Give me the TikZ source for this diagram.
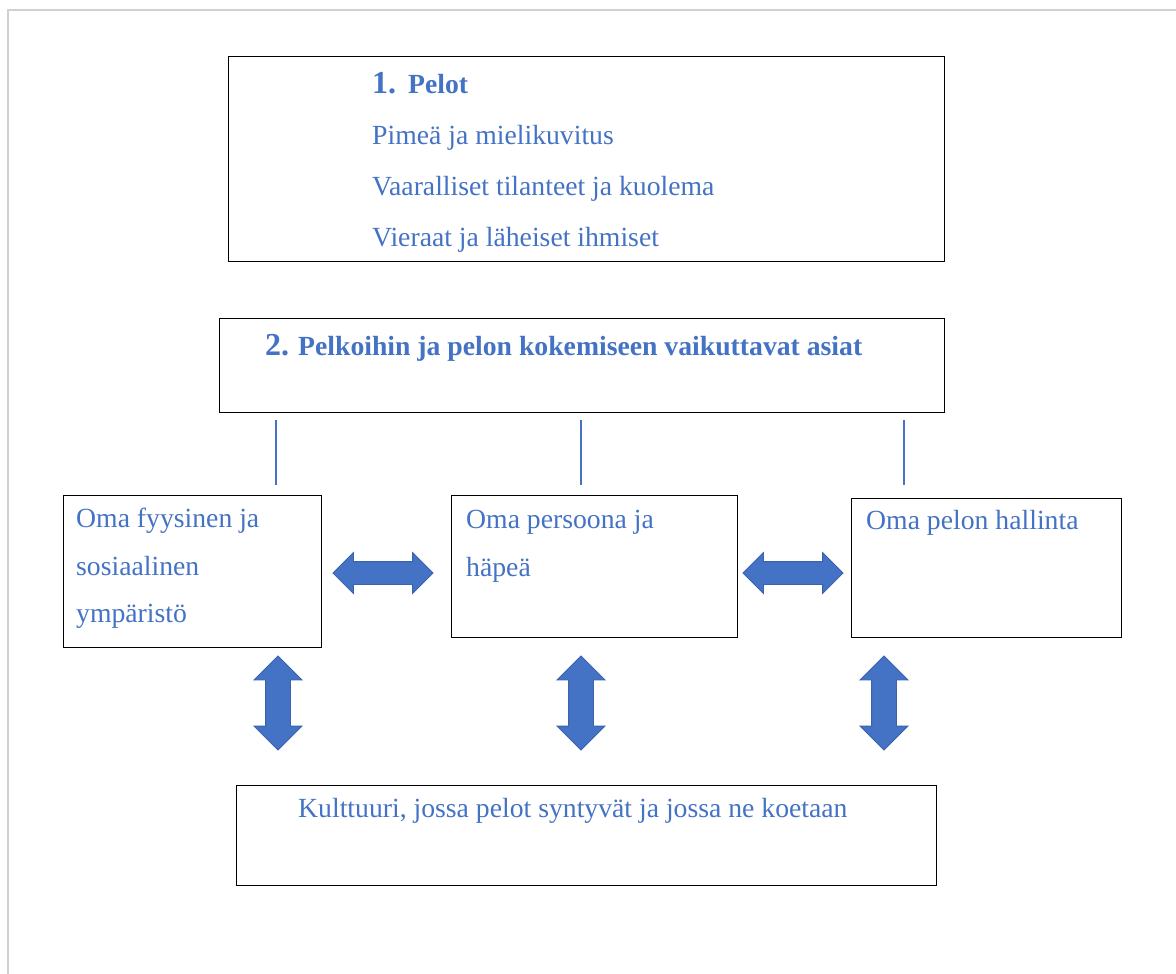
\documentclass[tikz,border=0pt]{standalone}
\usepackage{fontspec}
\setmainfont{Liberation Serif}
\usetikzlibrary{shapes.arrows,calc}
\usepackage{xcolor}
\definecolor{fearblue}{HTML}{4472C4}
\definecolor{edgeblue}{HTML}{3A62AE}
\definecolor{pagegray}{HTML}{D0D0D0}

\begin{document}
\begin{tikzpicture}[x=1pt,y=-1pt,
  box/.style={draw=black, line width=1.3pt, anchor=north west, inner sep=0pt},
  txt/.style={text=fearblue, anchor=base west, inner sep=0pt, font=\fontsize{27.7}{33}\selectfont},
  hdr/.style={txt, font=\fontsize{27.7}{33}\selectfont\bfseries},
  link/.style={draw=fearblue, line width=2.4pt},
  harrow/.style={double arrow, fill=fearblue, draw=edgeblue, line width=0.8pt,
    minimum height=100pt, inner xsep=0pt, inner ysep=11pt, double arrow head extend=9pt},
  varrow/.style={double arrow, rotate=90, fill=fearblue, draw=edgeblue, line width=0.8pt,
    minimum height=94pt, inner xsep=0pt, inner ysep=12pt, double arrow head extend=11.5pt}]
\useasboundingbox (0,0) rectangle (1176,974);
\draw[pagegray, line width=2pt] (8,974) -- (8,10) -- (1176,10);

\node[box, minimum width=716pt, minimum height=205pt] (pelot) at (228,56) {};
\node[hdr] (pelothead) at (372,93) {{\fontsize{32}{32}\selectfont 1.}\hspace{12pt}Pelot};
\node[txt] (pimea) at (372,144) {Pimeä ja mielikuvitus};
\node[txt] (vaara) at (372,195) {Vaaralliset tilanteet ja kuolema};
\node[txt] (ihmiset) at (372,246) {Vieraat ja läheiset ihmiset};

\node[box, minimum width=725pt, minimum height=94pt] (tekijat) at (219,318) {};
\node[hdr] (tekijathead) at (265,355) {{\fontsize{32}{32}\selectfont 2.}\hspace{9pt}Pelkoihin ja pelon kokemiseen vaikuttavat asiat};

\node[box, minimum width=258pt, minimum height=152pt] (ymparisto) at (63,495) {};
\node[txt] (ymp1) at (76,527) {Oma fyysinen ja};
\node[txt] (ymp2) at (76,575) {sosiaalinen};
\node[txt] (ymp3) at (76,622) {ympäristö};

\node[box, minimum width=286pt, minimum height=142pt] (persoona) at (451,495) {};
\node[txt] (per1) at (466,528) {Oma persoona ja};
\node[txt] (per2) at (466,576) {häpeä};

\node[box, minimum width=270pt, minimum height=139pt] (hallinta) at (851,498) {};
\node[txt] (hal1) at (866,529) {Oma pelon hallinta};

\node[box, minimum width=700pt, minimum height=100pt] (kulttuuri) at (236,785) {};
\node[txt] (kul1) at (298,817) {Kulttuuri, jossa pelot syntyvät ja jossa ne koetaan};

\coordinate (la) at (276,420);
\coordinate (lb) at (581,420);
\coordinate (lc) at (904,420);
\coordinate (ma) at (276,485);
\coordinate (mb) at (581,485);
\coordinate (mc) at (904,485);
\draw[link] (la) -- (ma);
\draw[link] (lb) -- (mb);
\draw[link] (lc) -- (mc);

\node[harrow] (ymppers) at (383,573) {};
\node[harrow] (pershal) at (793,573) {};
\node[varrow] (ympkul) at (278,703) {};
\node[varrow] (perkul) at (581,703) {};
\node[varrow] (halkul) at (884,703) {};
\end{tikzpicture}
\end{document}
